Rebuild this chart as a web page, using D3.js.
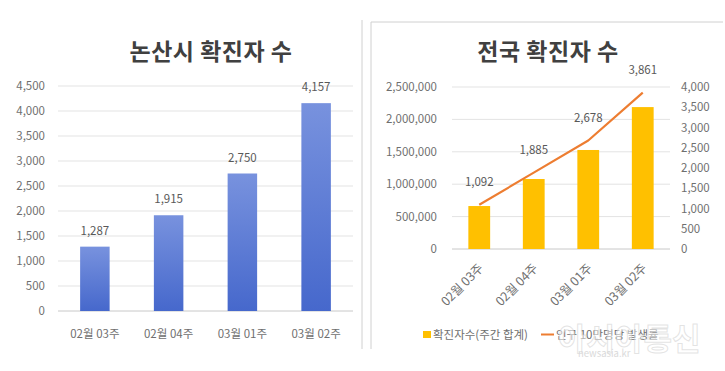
<!DOCTYPE html>
<html>
<head>
<meta charset="utf-8">
<script src="https://cdn.jsdelivr.net/npm/d3@7"></script>
<style>
  body { margin: 0; background: #fff; }
  svg { display: block; font-family: "Noto Sans CJK KR", "Noto Sans", sans-serif; }
</style>
</head>
<body>
<svg id="chart" width="725" height="371"></svg>
<script>
// weeks shared by both charts
const weeks = ['02월 03주', '02월 04주', '03월 01주', '03월 02주'];

// left: 논산시 weekly cases
const nonsanCases = [1287, 1915, 2750, 4157];
const nonsanTicks = [0, 500, 1000, 1500, 2000, 2500, 3000, 3500, 4000, 4500];

// right: nationwide weekly total (bars) and rate per 100k (line)
const nationCases = [663000, 1080000, 1528000, 2190000];
const nationRate = [1092, 1885, 2678, 3861];
const nationTicks = [0, 500000, 1000000, 1500000, 2000000, 2500000];
const rateTicks = [0, 500, 1000, 1500, 2000, 2500, 3000, 3500, 4000];

const legendNames = ['확진자수(주간 합계)', '인구 10만명당 발생률'];

const svg = d3.select('#chart');
const fmt = d3.format(',');
const tickColor = '#6f6f6f';
const labelColor = '#595959';

// ---------- left chart ----------
const yL = d3.scaleLinear().domain([0, 4500]).range([311, 86]);
const xL = d3.scaleBand().domain(weeks).range([58, 353])
  .paddingInner(0.6).paddingOuter(0.3);

const defs = svg.append('defs');
const grad = defs.append('linearGradient')
  .attr('id', 'blueGrad').attr('x1', 0).attr('y1', 0).attr('x2', 0).attr('y2', 1);
grad.append('stop').attr('offset', '0%').attr('stop-color', '#7892de');
grad.append('stop').attr('offset', '100%').attr('stop-color', '#4668cc');

const gL = svg.append('g');

gL.append('text')
  .attr('x', 211).attr('y', 60)
  .attr('text-anchor', 'middle')
  .attr('font-size', 23).attr('font-weight', 700)
  .attr('letter-spacing', 0.5)
  .attr('fill', '#404040')
  .text('논산시 확진자 수');

gL.selectAll('line.grid')
  .data(nonsanTicks)
  .join('line')
  .attr('class', 'grid')
  .attr('x1', 58).attr('x2', 353)
  .attr('y1', d => yL(d)).attr('y2', d => yL(d))
  .attr('stroke', d => d === 0 ? '#c8c8c8' : '#e3e3e3')
  .attr('stroke-width', 1);

gL.selectAll('text.ytick')
  .data(nonsanTicks)
  .join('text')
  .attr('class', 'ytick')
  .attr('x', 45).attr('y', d => yL(d))
  .attr('dy', '0.35em')
  .attr('text-anchor', 'end')
  .attr('font-size', 11.5)
  .attr('fill', tickColor)
  .text(d => fmt(d));

gL.selectAll('rect.bar')
  .data(nonsanCases)
  .join('rect')
  .attr('class', 'bar')
  .attr('x', (d, i) => xL(weeks[i]))
  .attr('width', xL.bandwidth())
  .attr('y', d => yL(d))
  .attr('height', d => yL(0) - yL(d))
  .attr('fill', 'url(#blueGrad)');

gL.selectAll('text.val')
  .data(nonsanCases)
  .join('text')
  .attr('class', 'val')
  .attr('x', (d, i) => xL(weeks[i]) + xL.bandwidth() / 2)
  .attr('y', d => yL(d) - 12)
  .attr('text-anchor', 'middle')
  .attr('font-size', 11.5)
  .attr('fill', labelColor)
  .text(d => fmt(d));

gL.selectAll('text.xlab')
  .data(weeks)
  .join('text')
  .attr('class', 'xlab')
  .attr('x', d => xL(d) + xL.bandwidth() / 2)
  .attr('y', 338)
  .attr('text-anchor', 'middle')
  .attr('font-size', 11.5)
  .attr('fill', tickColor)
  .text(d => d);

// divider + right box
svg.append('line')
  .attr('x1', 362).attr('x2', 362).attr('y1', 20).attr('y2', 349)
  .attr('stroke', '#d0d0d0');
svg.append('path')
  .attr('d', 'M371,349 V22 H723')
  .attr('fill', 'none').attr('stroke', '#d0d0d0');

// ---------- right chart ----------
const yR = d3.scaleLinear().domain([0, 2500000]).range([249, 87]);
const yR2 = d3.scaleLinear().domain([0, 4000]).range([249, 87]);
const xR = d3.scaleBand().domain(weeks).range([452, 670])
  .paddingInner(0.6).paddingOuter(0.3);

const gR = svg.append('g');

gR.append('text')
  .attr('x', 548).attr('y', 60)
  .attr('text-anchor', 'middle')
  .attr('font-size', 23).attr('font-weight', 700)
  .attr('letter-spacing', 0.5)
  .attr('fill', '#404040')
  .text('전국 확진자 수');

gR.selectAll('line.grid')
  .data(nationTicks)
  .join('line')
  .attr('class', 'grid')
  .attr('x1', 452).attr('x2', 670)
  .attr('y1', d => yR(d)).attr('y2', d => yR(d))
  .attr('stroke', d => d === 0 ? '#c8c8c8' : '#e3e3e3');

gR.selectAll('text.ytick')
  .data(nationTicks)
  .join('text')
  .attr('class', 'ytick')
  .attr('x', 437).attr('y', d => yR(d))
  .attr('dy', '0.35em')
  .attr('text-anchor', 'end')
  .attr('font-size', 11.5)
  .attr('fill', tickColor)
  .text(d => fmt(d));

gR.selectAll('text.ytick2')
  .data(rateTicks)
  .join('text')
  .attr('class', 'ytick2')
  .attr('x', 681).attr('y', d => yR2(d))
  .attr('dy', '0.35em')
  .attr('text-anchor', 'start')
  .attr('font-size', 11.5)
  .attr('fill', tickColor)
  .text(d => fmt(d));

gR.selectAll('rect.bar')
  .data(nationCases)
  .join('rect')
  .attr('class', 'bar')
  .attr('x', (d, i) => xR(weeks[i]))
  .attr('width', xR.bandwidth())
  .attr('y', d => yR(d))
  .attr('height', d => yR(0) - yR(d))
  .attr('fill', '#ffc000');

const line = d3.line()
  .x((d, i) => xR(weeks[i]) + xR.bandwidth() / 2)
  .y(d => yR2(d));

gR.append('path')
  .datum(nationRate)
  .attr('d', line)
  .attr('fill', 'none')
  .attr('stroke', '#ed7d31')
  .attr('stroke-width', 2.2)
  .attr('stroke-linejoin', 'round');

gR.selectAll('text.val')
  .data(nationRate)
  .join('text')
  .attr('class', 'val')
  .attr('x', (d, i) => xR(weeks[i]) + xR.bandwidth() / 2)
  .attr('y', d => yR2(d) - 19)
  .attr('text-anchor', 'middle')
  .attr('font-size', 11.5)
  .attr('fill', labelColor)
  .text(d => fmt(d));

// rotated week labels, ending just under each bar
gR.selectAll('text.xlab')
  .data(weeks)
  .join('text')
  .attr('class', 'xlab')
  .attr('transform', d => `translate(${xR(d) + xR.bandwidth() / 2 + 5},${269}) rotate(-45)`)
  .attr('text-anchor', 'end')
  .attr('font-size', 12.5)
  .attr('fill', tickColor)
  .text(d => d);

// legend
const lg = gR.append('g');
lg.append('rect')
  .attr('x', 423).attr('y', 331).attr('width', 8).attr('height', 7)
  .attr('fill', '#ffc000');
lg.append('text')
  .attr('x', 433).attr('y', 338.5)
  .attr('font-size', 11.5).attr('fill', tickColor)
  .text(legendNames[0]);
lg.append('line')
  .attr('x1', 541).attr('x2', 554).attr('y1', 334.5).attr('y2', 334.5)
  .attr('stroke', '#ed7d31').attr('stroke-width', 2);
lg.append('text')
  .attr('x', 556).attr('y', 338.5)
  .attr('font-size', 11.5).attr('fill', tickColor)
  .text(legendNames[1]);

// faint watermark
svg.append('text')
  .attr('x', 558).attr('y', 350)
  .attr('font-size', 31).attr('font-weight', 700)
  .attr('fill', '#ffffff').attr('fill-opacity', 0.5)
  .attr('stroke', '#cccccc').attr('stroke-opacity', 0.55).attr('stroke-width', 1)
  .text('아시아통신');
svg.append('text')
  .attr('x', 578).attr('y', 357)
  .attr('font-size', 9.5)
  .attr('fill', '#dadada')
  .text('newsasia.kr');
</script>
</body>
</html>
